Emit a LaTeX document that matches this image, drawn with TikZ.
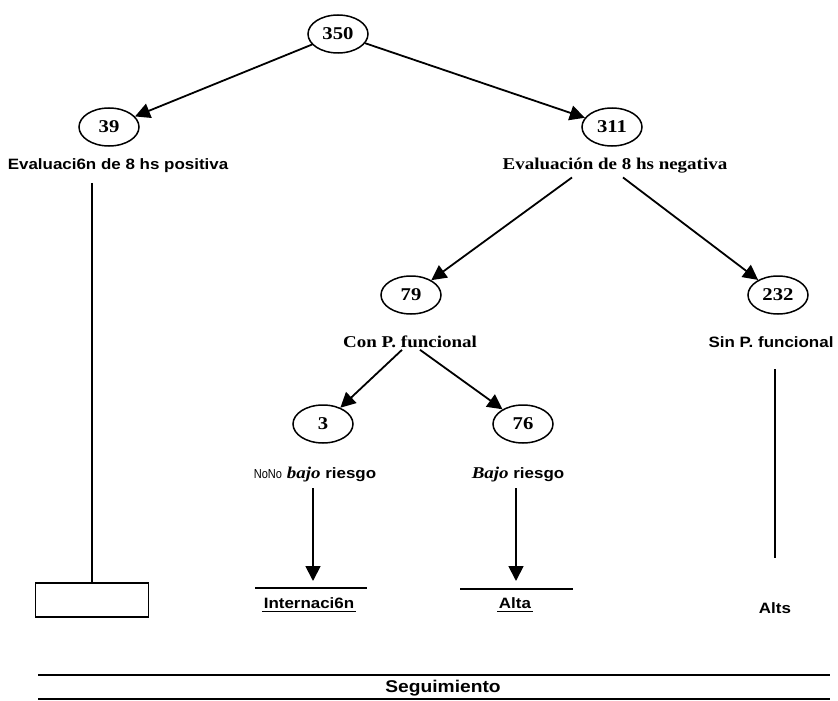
\documentclass[tikz,border=0pt]{standalone}
\usepackage{fontspec}
\setmainfont{Liberation Sans}[FakeStretch=1.13]
\newfontfamily\tnr{Liberation Serif}[FakeStretch=1.15]
\newfontfamily\narrowsans{Liberation Sans}[FakeStretch=0.85]
\usetikzlibrary{arrows.meta,positioning,shapes.geometric}

\begin{document}
\begin{tikzpicture}[x=1pt,y=-1pt,line width=1.8pt]
    \tikzset{num/.style={ellipse,draw,line width=1.5pt,minimum width=60pt,minimum height=38pt,
      inner sep=0pt,font=\tnr\bfseries\fontsize{18}{20}\selectfont},
      sanslab/.style={font=\bfseries\fontsize{15}{17}\selectfont,inner sep=1pt},
      seriflab/.style={font=\tnr\bfseries\fontsize{16.5}{18}\selectfont,inner sep=1pt},
      arr/.style={-{Triangle[length=15pt,width=15pt]}}}
    \useasboundingbox (0,0) rectangle (838,701);
    % tree nodes
    \node[num] (n350) at (338,34) {350};
    \node[num] (n39) at (109,127) {39};
    \node[num] (n311) at (612,127) {311};
    \node[sanslab] (pos) at (118,166) {Evaluaci6n de 8 hs positiva};
    \node[seriflab] (neg) at (615,166) {Evaluación de 8 hs negativa};
    \node[num] (n79) at (411,295) {79};
    \node[num] (n232) at (778,295) {232};
    \node[seriflab] (con) at (410,342) {Con P. funcional};
    \node[sanslab] (sin) at (771,342) {Sin P. funcional};
    \node[num] (n3) at (323,424) {3};
    \node[num] (n76) at (523,424) {76};
    \node[sanslab] (nobajo) at (315,475)
      {{\narrowsans\mdseries\fontsize{13}{14}\selectfont NoNo} {\tnr\itshape\fontsize{16.5}{18}\selectfont bajo} riesgo};
    \node[sanslab] (bajo) at (518,475) {{\tnr\itshape\fontsize{16.5}{18}\selectfont Bajo} riesgo};
    % outcomes
    \node[draw,line width=1.5pt,minimum width=113pt,minimum height=34pt] (box) at (92,600) {};
    \node[sanslab] (intern) at (309,603) {Internaci6n};
    \node[sanslab] (alta) at (515,603) {Alta};
    \node[sanslab] (alts) at (775,608) {Alts};
    \node[sanslab,font=\bfseries\fontsize{17}{19}\selectfont] (segui) at (443,688) {Seguimiento};
    \coordinate (intL) at (255,588);
    \coordinate (intR) at (367,588);
    \coordinate (altaL) at (460,589);
    \coordinate (altaR) at (573,589);
    \coordinate (altsend) at (775,558);
    \coordinate (barL) at (38,675);
    \coordinate (barR) at (830,675);
    \coordinate (baseL) at (38,699);
    \coordinate (baseR) at (830,699);
    % connectors
    \draw[arr] (n350) -- (n39);
    \draw[arr] (n350) -- (n311);
    \draw[arr] ([xshift=-43pt,yshift=-2pt]neg.south) -- (n79);
    \draw[arr] ([xshift=8pt,yshift=-2pt]neg.south) -- (n232);
    \draw[arr] ([xshift=-8pt]con.south) -- (n3);
    \draw[arr] ([xshift=10pt]con.south) -- (n76);
    \draw[shorten <=8pt] (box.north |- pos.south) -- (box.north);
    \draw[arr,shorten >=7pt,shorten <=4pt] ([xshift=-2pt]nobajo.south) -- ([xshift=-2pt]nobajo.south |- intL);
    \draw[arr,shorten >=8pt,shorten <=4pt] ([xshift=-2pt]bajo.south) -- ([xshift=-2pt]bajo.south |- altaL);
    \draw[shorten <=20pt] (sin.south -| altsend) -- (altsend);
    \draw (intL) -- (intR);
    \draw (altaL) -- (altaR);
    \draw[line width=1.3pt] ([yshift=-1pt]intern.south west) -- ([yshift=-1pt]intern.south east);
    \draw[line width=1.3pt] ([yshift=-1pt]alta.south west) -- ([yshift=-1pt]alta.south east);
    \draw[line width=1.8pt] (barL) -- (barR);
    \draw[line width=1.4pt] (baseL) -- (baseR);
  \end{tikzpicture}
\end{document}
